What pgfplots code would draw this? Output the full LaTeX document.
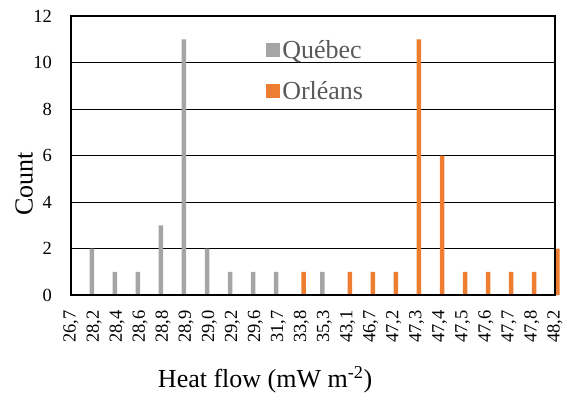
\documentclass[border=0pt]{standalone}
\usepackage{fontspec}
\setmainfont{Liberation Serif}
\usepackage{pgfplots}
\pgfplotsset{compat=1.18}
\definecolor{qgray}{HTML}{A5A5A5}
\definecolor{orange}{HTML}{ED7D31}
\definecolor{legtext}{HTML}{595959}
\newcommand{\tickfont}{\rmfamily\fontsize{18.5}{22}\selectfont}
\newcommand{\titlefont}{\rmfamily\fontsize{26}{31}\selectfont}
\begin{document}
\begin{tikzpicture}
\useasboundingbox (-71pt,-97pt) rectangle (494pt,295pt);
\begin{axis}[
  at={(0,0)}, anchor=south west,
  scale only axis, width=484pt, height=279pt,
  xmin=0, xmax=21, ymin=0, ymax=12,
  ybar=0pt, bar width=4.5pt,
  clip=false,
  xtick={0,...,21},
  xticklabels={26{,}7,28{,}2,28{,}4,28{,}6,28{,}8,28{,}9,29{,}0,29{,}2,29{,}6,31{,}7,33{,}8,35{,}3,43{,}1,46{,}7,47{,}2,47{,}3,47{,}4,47{,}5,47{,}6,47{,}7,47{,}8,48{,}2},
  ytick={0,2,...,12},
  major tick length=0pt,
  tick style={draw=none},
  ymajorgrids,
  grid style={black, line width=0.9pt},
  axis line style={draw=none},
  /pgf/number format/assume math mode=true,
  xticklabel style={rotate=90, anchor=east, inner sep=0pt, font=\tickfont},
  xticklabel shift=15pt,
  yticklabel style={anchor=east, inner sep=0pt, font=\tickfont},
  yticklabel shift=19pt,
  xlabel={Heat flow (mW m\textsuperscript{-2})},
  xlabel style={at={(axis description cs:0.401,-0.33)}, anchor=base, font=\titlefont},
  ylabel={Count},
  ylabel style={at={(axis description cs:-0.097,0.398)}, anchor=center, font=\titlefont},
  legend style={at={(axis description cs:0.403,0.92)}, anchor=north west, draw=none, fill=none,
    font=\titlefont, text=legtext, inner sep=0pt, row sep=17pt,
    cells={anchor=west}},
  legend image code/.code={\fill[#1] (0pt,-7pt) rectangle (14pt,7pt);},
]
\addplot[fill=qgray, draw=none] coordinates {(1,2) (2,1) (3,1) (4,3) (5,11) (6,2) (7,1) (8,1) (9,1) (11,1)};
\addplot[fill=orange, draw=none] coordinates {(10,1) (12,1) (13,1) (14,1) (15,11) (16,6) (17,1) (18,1) (19,1) (20,1) (21,2)};
\legend{Québec, Orléans}
\draw[black, line width=1.5pt] (rel axis cs:0,0) rectangle (rel axis cs:1,1);
\end{axis}
\end{tikzpicture}
\end{document}
